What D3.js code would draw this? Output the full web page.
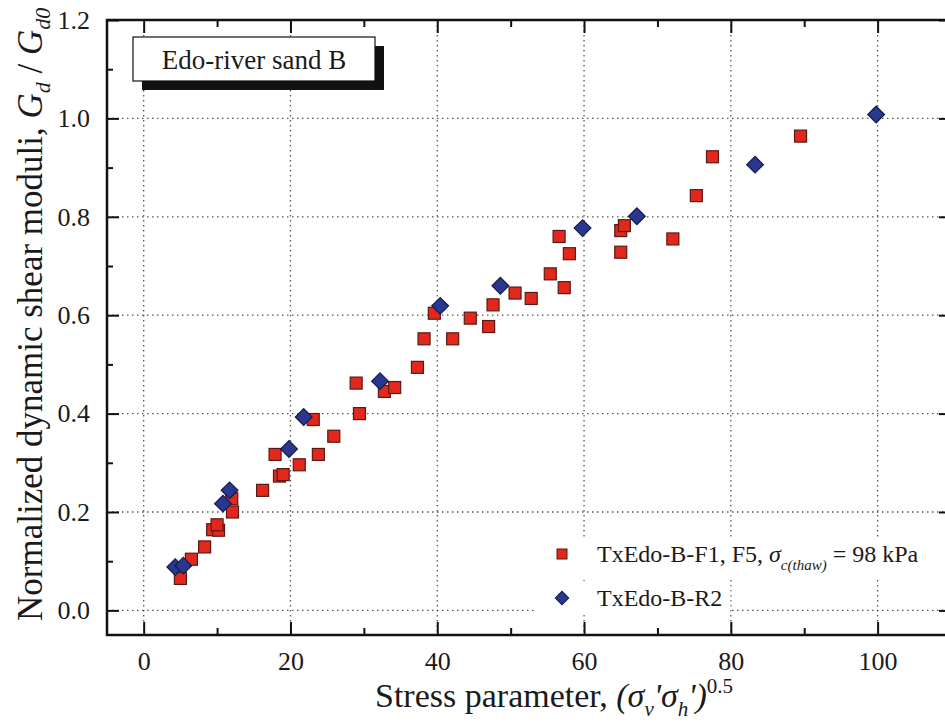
<!DOCTYPE html>
<html>
<head>
<meta charset="utf-8">
<script src="https://cdn.jsdelivr.net/npm/d3@7"></script>
<style>
  body { margin: 0; background: #fff; }
  text { font-family: "Liberation Serif", "Times New Roman", serif; fill: #1a1a1a; }
</style>
</head>
<body>
<svg id="chart" width="945" height="722"></svg>
<script>

// TxEdo-B-F1, F5 (red squares)
const f1Stress = [5.0, 6.5, 8.3, 9.4, 10.2, 10.0, 12.0, 12.1, 16.2, 17.9, 18.5, 19.0, 21.2, 23.1, 23.8, 25.9, 28.95, 29.4, 32.8, 34.2,
  37.3, 38.2, 42.1, 39.6, 44.5, 47.0, 47.6, 50.6, 52.8, 55.4, 57.3, 56.6, 58.0, 65.0, 65.0, 65.5, 72.1, 75.3, 77.5, 89.5];
const f1Ratio = [0.065, 0.104, 0.129, 0.164, 0.163, 0.174, 0.227, 0.200, 0.244, 0.317, 0.273, 0.276, 0.296, 0.388, 0.317, 0.354, 0.462, 0.400, 0.445, 0.453,
  0.494, 0.552, 0.552, 0.604, 0.594, 0.577, 0.621, 0.645, 0.634, 0.684, 0.656, 0.760, 0.725, 0.728, 0.772, 0.782, 0.755, 0.843, 0.922, 0.964];

// TxEdo-B-R2 (blue diamonds)
const r2Stress = [4.3, 5.4, 10.8, 11.7, 19.8, 21.8, 32.2, 40.4, 48.6, 59.8, 67.2, 83.3, 99.8];
const r2Ratio = [0.088, 0.091, 0.217, 0.244, 0.328, 0.393, 0.466, 0.619, 0.660, 0.777, 0.801, 0.906, 1.008];

const xTicks = [0, 20, 40, 60, 80, 100];
const xMinor = [10, 30, 50, 70, 90];
const yTicks = [0, 0.2, 0.4, 0.6, 0.8, 1.0, 1.2];
const yMinor = [0.1, 0.3, 0.5, 0.7, 0.9, 1.1];
const sampleName = "Edo-river sand B";

const plotLeft = 107, plotRight = 951, plotTop = 20, plotBottom = 635;
const svg = d3.select("#chart");

const x = d3.scaleLinear().domain([-5, 110]).range([plotLeft, plotRight]);
const y = d3.scaleLinear().domain([-0.05, 1.2]).range([plotBottom, plotTop]);

// helper to write text with italic / sub / sup pieces
function addRuns(sel, runs) {
  runs.forEach(r => {
    const t = sel.append("tspan").text(r.t);
    if (r.i) t.style("font-style", "italic");
    if (r.s) t.attr("font-size", r.s);
    if (r.dy) t.attr("dy", r.dy);
  });
  return sel;
}

// dotted grid
svg.append("g").selectAll("line")
  .data(xTicks)
  .enter().append("line")
  .attr("x1", d => x(d)).attr("x2", d => x(d))
  .attr("y1", plotTop).attr("y2", plotBottom)
  .attr("stroke", "#555").attr("stroke-width", 1.3)
  .attr("stroke-dasharray", "1.5,3.5");
svg.append("g").selectAll("line")
  .data(yTicks.filter(d => d < 1.1))
  .enter().append("line")
  .attr("x1", plotLeft).attr("x2", plotRight)
  .attr("y1", d => y(d)).attr("y2", d => y(d))
  .attr("stroke", "#555").attr("stroke-width", 1.3)
  .attr("stroke-dasharray", "1.5,3.5");

// axes, ticks pointing inward on all sides
const xAxis = d3.axisBottom(x).tickValues(xTicks).tickSize(-13).tickPadding(17).tickFormat(d3.format("d"));
const yAxis = d3.axisLeft(y).tickValues(yTicks).tickSize(-12).tickPadding(17).tickFormat(d3.format(".1f"));

const gx = svg.append("g").attr("transform", "translate(0," + plotBottom + ")").call(xAxis);
svg.append("g").attr("transform", "translate(0," + plotBottom + ")")
  .call(d3.axisBottom(x).tickValues(xMinor).tickSize(-7).tickFormat(""));
svg.append("g").attr("transform", "translate(0," + plotTop + ")")
  .call(d3.axisTop(x).tickValues(xTicks).tickSize(-13).tickFormat(""));
svg.append("g").attr("transform", "translate(0," + plotTop + ")")
  .call(d3.axisTop(x).tickValues(xMinor).tickSize(-7).tickFormat(""));

const gy = svg.append("g").attr("transform", "translate(" + plotLeft + ",0)").call(yAxis);
svg.append("g").attr("transform", "translate(" + plotLeft + ",0)")
  .call(d3.axisLeft(y).tickValues(yMinor).tickSize(-6).tickFormat(""));
svg.append("g").attr("transform", "translate(" + plotRight + ",0)")
  .call(d3.axisRight(y).tickValues(yTicks).tickSize(-12).tickFormat(""));
svg.append("g").attr("transform", "translate(" + plotRight + ",0)")
  .call(d3.axisRight(y).tickValues(yMinor).tickSize(-6).tickFormat(""));

svg.selectAll(".domain").remove();
svg.selectAll(".tick line").attr("stroke", "#111").attr("stroke-width", 2);
gx.attr("font-family", null).attr("font-size", 26);
gy.attr("font-family", null).attr("font-size", 26);

// frame
svg.append("rect")
  .attr("x", plotLeft).attr("y", plotTop)
  .attr("width", plotRight - plotLeft).attr("height", plotBottom - plotTop)
  .attr("fill", "none").attr("stroke", "#111").attr("stroke-width", 2.5);

// points
svg.append("g").selectAll("rect")
  .data(f1Stress.map((d, i) => [d, f1Ratio[i]]))
  .enter().append("rect")
  .attr("x", d => x(d[0]) - 6)
  .attr("y", d => y(d[1]) - 6)
  .attr("width", 12).attr("height", 12)
  .attr("fill", "#e2281d").attr("stroke", "#5a1a14").attr("stroke-width", 1.2);

const diamond = d3.symbol().type(d3.symbolSquare).size(140);
svg.append("g").selectAll("path")
  .data(r2Stress.map((d, i) => [d, r2Ratio[i]]))
  .enter().append("path")
  .attr("d", diamond)
  .attr("transform", d => "translate(" + x(d[0]) + "," + y(d[1]) + ") rotate(45)")
  .attr("fill", "#283890").attr("stroke", "#161a44").attr("stroke-width", 1.2);

// sample name box with shadow
svg.append("rect").attr("x", 142).attr("y", 46).attr("width", 242).attr("height", 44).attr("fill", "#111");
svg.append("rect").attr("x", 133).attr("y", 37).attr("width", 242).attr("height", 44)
  .attr("fill", "#fff").attr("stroke", "#111").attr("stroke-width", 1.2);
svg.append("text").attr("x", 254).attr("y", 69).attr("text-anchor", "middle")
  .attr("font-size", 27).text(sampleName);

// series legend
const legendRows = [
  { y: 562, runs: [{ t: "TxEdo-B-F1, F5, " }, { t: "σ", i: true }, { t: "c(thaw)", i: true, s: 15, dy: 8 }, { t: " = 98 kPa", dy: -8 }] },
  { y: 606, runs: [{ t: "TxEdo-B-R2" }] }
];
const legend = svg.append("g");
legendRows.forEach((row, i) => {
  const bg = legend.append("rect").attr("fill", "#fff");
  const t = addRuns(legend.append("text").attr("x", 597).attr("y", row.y).attr("font-size", 24), row.runs);
  const b = t.node().getBBox();
  bg.attr("x", 535).attr("y", b.y - 4).attr("width", b.x + b.width - 535 + 8).attr("height", b.height + 8);
  if (i === 0) {
    legend.append("rect").attr("x", 557).attr("y", row.y - 13).attr("width", 10).attr("height", 10)
      .attr("fill", "#e2281d").attr("stroke", "#5a1a14");
  } else {
    legend.append("path").attr("d", d3.symbol().type(d3.symbolSquare).size(90))
      .attr("transform", "translate(562," + (row.y - 8) + ") rotate(45)")
      .attr("fill", "#283890").attr("stroke", "#161a44");
  }
});

// axis titles
addRuns(svg.append("text").attr("x", 375).attr("y", 707).attr("font-size", 34), [
  { t: "Stress parameter, " }, { t: "(σ", i: true }, { t: "v", i: true, s: 21, dy: 9 },
  { t: "'σ", i: true, dy: -9 }, { t: "h", i: true, s: 21, dy: 9 }, { t: "')", i: true, dy: -9 },
  { t: "0.5", s: 21, dy: -14 }
]);

addRuns(svg.append("text").attr("transform", "translate(42,621) rotate(-90)").attr("font-size", 35), [
  { t: "Normalized dynamic shear moduli, " }, { t: "G", i: true }, { t: "d", i: true, s: 22, dy: 8 },
  { t: " / ", dy: -8 }, { t: "G", i: true }, { t: "d0", i: true, s: 22, dy: 8 }
]);

</script>
</body>
</html>
